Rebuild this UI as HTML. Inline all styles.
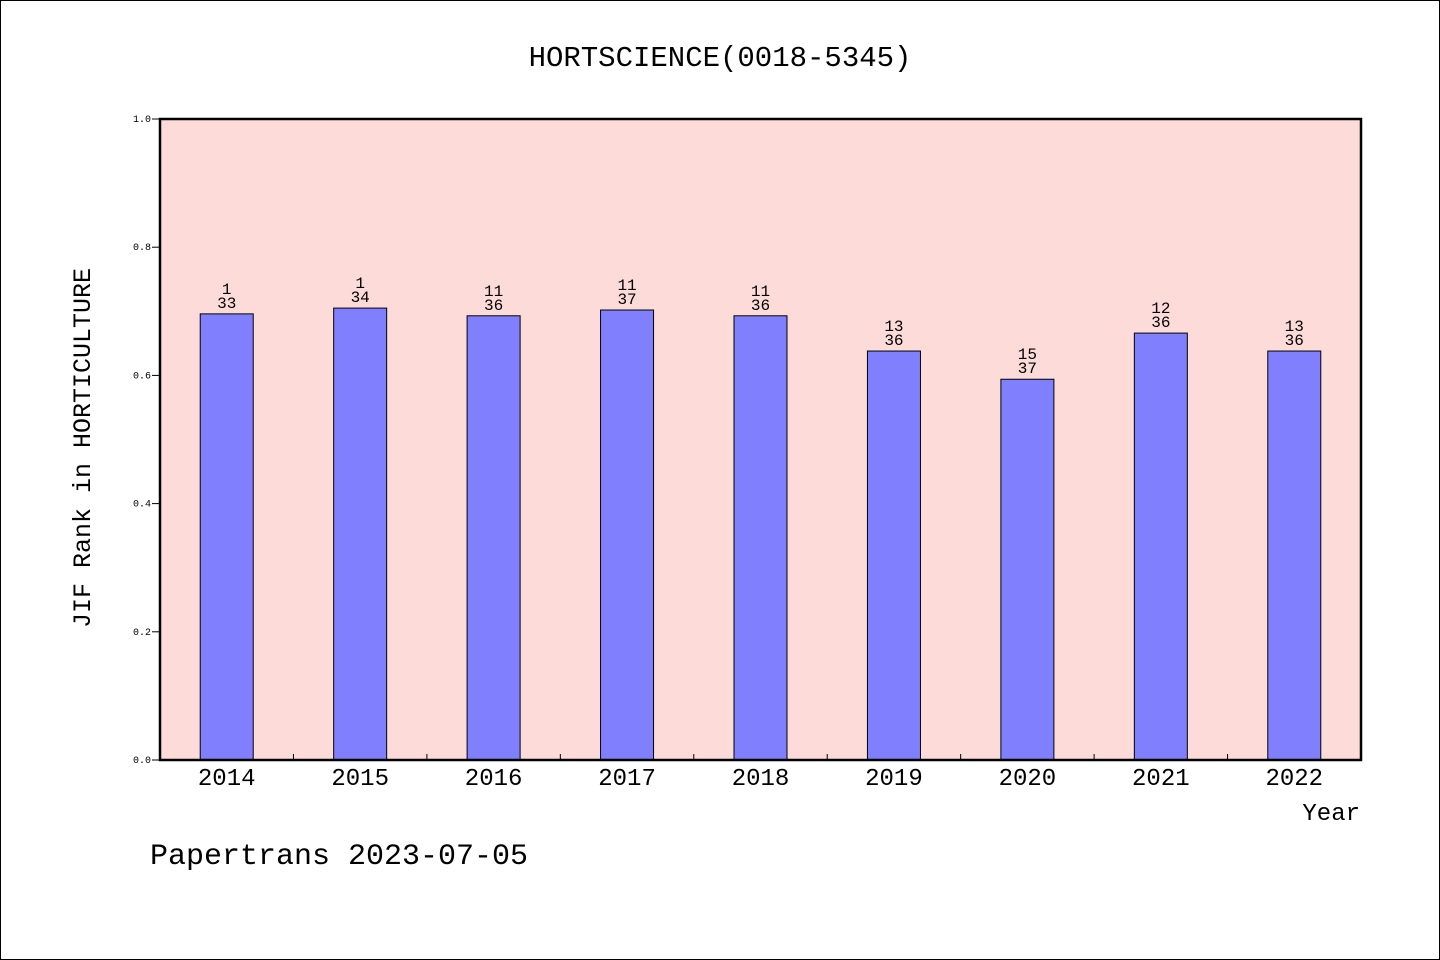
<!DOCTYPE html>
<html><head><meta charset="utf-8"><style>
html,body{margin:0;padding:0;background:#fff}
svg{display:block}
text{font-family:"Liberation Mono","WenQuanYi Zen Hei",monospace;fill:#000}
</style></head><body>
<svg id="chart" width="1440" height="960" xmlns="http://www.w3.org/2000/svg">
<rect x="0.5" y="0.5" width="1439" height="959" fill="#fff" stroke="#000"/>
<text x="720" y="66" font-size="29" text-anchor="middle">HORTSCIENCE(0018-5345)</text>
<rect x="160" y="119" width="1201" height="641" fill="#fddbd8"/>
<g id="bars"></g>
<g id="yaxis"></g>
<g id="xaxis"></g>
<rect x="160" y="119" width="1201" height="641" fill="none" stroke="#000" stroke-width="2.5"/>
<text transform="translate(90,448) rotate(-90)" font-size="25" text-anchor="middle">JIF Rank in HORTICULTURE</text>
<text x="1360" y="820" font-size="24" text-anchor="end">Year</text>
<text x="150" y="864" font-size="30">Papertrans 2023-07-05</text>
</svg>
<script>
const categories=["2014","2015","2016","2017","2018","2019","2020","2021","2022"];
const values=[0.696,0.705,0.693,0.702,0.693,0.638,0.594,0.666,0.638];
const ranks=["1","1","11","11","11","13","15","12","13"];
const totals=["33","34","36","37","36","36","37","36","36"];
const yTicks=[0,0.2,0.4,0.6,0.8,1.0];
const NS="http://www.w3.org/2000/svg";
const X0=160,X1=1361,Y0=760,Y1=119;
const band=(X1-X0)/categories.length;
const xc=i=>X0+band*(i+0.5);
const y=v=>Y0-(Y0-Y1)*v;
function mk(t,a,p){const e=document.createElementNS(NS,t);for(const k in a)e.setAttribute(k,a[k]);p.appendChild(e);return e;}
const gb=document.getElementById('bars'),gy=document.getElementById('yaxis'),gx=document.getElementById('xaxis');
const bw=53;
categories.forEach((c,i)=>{
 const r=mk('rect',{x:xc(i)-bw/2,y:y(values[i]),width:bw,height:Y0-y(values[i]),fill:'#8080ff',stroke:'#000','stroke-width':1},gb);
 
 
 const t1=mk('text',{x:xc(i),y:y(values[i])-20,'font-size':16,'text-anchor':'middle'},gb);t1.textContent=ranks[i];
 
 
 const t2=mk('text',{x:xc(i),y:y(values[i])-6,'font-size':16,'text-anchor':'middle'},gb);t2.textContent=totals[i];
 
 
 const xl=mk('text',{x:xc(i),y:785,'font-size':24,'text-anchor':'middle'},gx);xl.textContent=c;
 
 
 if(i>0){const tk=mk('line',{x1:X0+band*i,x2:X0+band*i,y1:Y0,y2:Y0-6,stroke:'#000'},gx);
 
 }
});
yTicks.forEach(v=>{
 const l=mk('line',{x1:152,x2:160,y1:y(v),y2:y(v),stroke:'#000'},gy);
 
 
 const t=mk('text',{x:151,y:y(v)+3,'font-size':10,'text-anchor':'end'},gy);t.textContent=v.toFixed(1);
 
 
});
</script>
</body></html>
